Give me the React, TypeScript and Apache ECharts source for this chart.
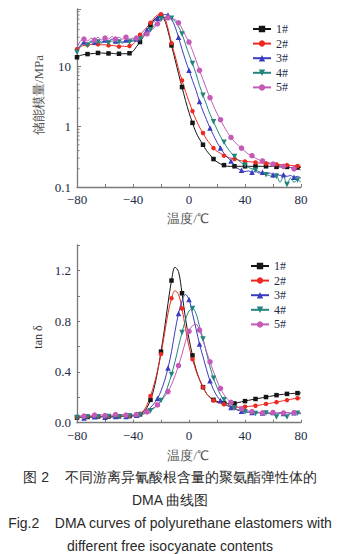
import React, { useEffect, useRef } from "react";
import * as echarts from "echarts";

const temps = [
  -80, -77.5, -75, -72.5, -70, -67.5, -65, -62.5, -60, -57.5, -55, -52.5, -50, -47.5, -45, -42.5,
  -40, -37.5, -35, -32.5, -30, -27.5, -25, -22.5, -20, -17.5, -15, -12.5, -10, -7.5, -5, -2.5,
  0, 2.5, 5, 7.5, 10, 12.5, 15, 17.5, 20, 22.5, 25, 27.5, 30, 32.5, 35, 37.5,
  40, 42.5, 45, 47.5, 50, 52.5, 55, 57.5, 60, 62.5, 65, 67.5, 70, 72.5, 75, 77.5, 80,
];

const seriesNames = ["1#", "2#", "3#", "4#", "5#"];

// storage modulus, MPa
const modulus1 = [
  14, 15, 15.5, 15.8, 16, 16.2, 16.5, 16.5, 16.3, 16.2, 16.3, 16, 16, 16, 16, 16.3,
  17.5, 21, 25, 31, 39, 48, 58, 66, 68, 58, 38, 22, 13, 7.5, 4.5, 2.7,
  1.7, 1.15, 0.8, 0.62, 0.5, 0.4, 0.34, 0.29, 0.26, 0.24, 0.23, 0.22, 0.22, 0.22, 0.22, 0.22,
  0.22, 0.22, 0.22, 0.22, 0.22, 0.22, 0.22, 0.22, 0.22, 0.215, 0.215, 0.215, 0.215, 0.21, 0.21, 0.21, 0.21,
];
const modulus2 = [
  19, 21, 22, 22.5, 23, 22.5, 23, 22.5, 22.5, 22, 22, 21.5, 21, 21.5, 21, 21.5,
  23, 27, 33, 38, 44, 52, 62, 70, 72, 63, 42, 24, 15, 9, 5.8, 3.8,
  2.6, 1.8, 1.3, 0.98, 0.78, 0.62, 0.52, 0.44, 0.39, 0.36, 0.33, 0.31, 0.3, 0.29, 0.28, 0.27,
  0.265, 0.262, 0.26, 0.255, 0.25, 0.248, 0.245, 0.242, 0.24, 0.237, 0.235, 0.232, 0.23, 0.228, 0.225, 0.222, 0.22,
];
const modulus3 = [
  18, 22, 25, 24, 26, 25, 27, 25, 27, 26, 28, 26, 27, 25, 27, 26,
  27, 28, 30, 34, 40, 47, 55, 62, 68, 71, 70, 60, 45, 30, 19, 12.5,
  8.5, 5.8, 4.0, 2.6, 1.8, 1.3, 0.95, 0.72, 0.55, 0.44, 0.36, 0.31, 0.27, 0.23, 0.2, 0.19,
  0.18, 0.185, 0.175, 0.18, 0.17, 0.175, 0.165, 0.17, 0.16, 0.165, 0.155, 0.16, 0.15, 0.155, 0.145, 0.15, 0.14,
];
const modulus4 = [
  17, 21, 24, 22, 25, 23, 25, 24, 26, 24, 26, 24, 25, 24, 26, 25,
  26, 27, 28, 31, 35, 40, 47, 54, 60, 64, 65, 62, 55, 45, 34, 23,
  15.5, 11, 7.5, 4.8, 3.3, 2.3, 1.6, 1.2, 0.9, 0.68, 0.55, 0.44, 0.37, 0.32, 0.28, 0.25,
  0.23, 0.21, 0.2, 0.19, 0.18, 0.17, 0.16, 0.155, 0.145, 0.15, 0.12, 0.15, 0.11, 0.14, 0.12, 0.13, 0.12,
];
const modulus5 = [
  20, 26, 28, 26, 29, 27, 30, 27, 29, 28, 31, 28, 30, 28, 30, 28,
  29, 29, 30, 31, 34, 38, 43, 50, 56, 61, 63, 62, 59, 52, 42, 32,
  25, 18, 12.5, 8.5, 6, 4.2, 3.0, 2.2, 1.65, 1.3, 1.0, 0.8, 0.66, 0.56, 0.49, 0.44,
  0.39, 0.35, 0.33, 0.3, 0.28, 0.27, 0.26, 0.25, 0.24, 0.235, 0.225, 0.22, 0.215, 0.21, 0.2, 0.2, 0.19,
];

// loss factor tan delta
const tan1 = [
  0.04, 0.042, 0.045, 0.045, 0.047, 0.046, 0.048, 0.047, 0.048, 0.048, 0.049, 0.048, 0.05, 0.05, 0.051, 0.052,
  0.054, 0.058, 0.066, 0.085, 0.12, 0.18, 0.27, 0.4, 0.56, 0.74, 0.94, 1.12, 1.225, 1.19, 1.02, 0.82,
  0.66, 0.53, 0.42, 0.34, 0.28, 0.23, 0.2, 0.18, 0.168, 0.16, 0.155, 0.152, 0.15, 0.152, 0.158, 0.165,
  0.17, 0.176, 0.182, 0.187, 0.192, 0.197, 0.202, 0.207, 0.212, 0.217, 0.221, 0.224, 0.227, 0.229, 0.231, 0.233, 0.234,
];
const tan2 = [
  0.045, 0.047, 0.048, 0.05, 0.049, 0.05, 0.051, 0.05, 0.052, 0.051, 0.052, 0.053, 0.052, 0.054, 0.053, 0.055,
  0.056, 0.06, 0.07, 0.095, 0.14, 0.21, 0.3, 0.41, 0.54, 0.7, 0.86, 0.98, 1.04, 1.01, 0.9, 0.74,
  0.6, 0.5, 0.41, 0.34, 0.28, 0.23, 0.2, 0.175, 0.16, 0.152, 0.145, 0.137, 0.128, 0.123, 0.122, 0.124,
  0.126, 0.128, 0.131, 0.134, 0.138, 0.143, 0.148, 0.152, 0.157, 0.162, 0.168, 0.173, 0.178, 0.184, 0.189, 0.193, 0.196,
];
const tan3 = [
  0.035, 0.04, 0.038, 0.045, 0.04, 0.046, 0.042, 0.047, 0.043, 0.048, 0.044, 0.049, 0.046, 0.05, 0.048, 0.052,
  0.055, 0.058, 0.063, 0.075, 0.095, 0.12, 0.15, 0.19, 0.25, 0.33, 0.43, 0.56, 0.72, 0.86, 0.96, 1.01,
  0.97, 0.86, 0.74, 0.62, 0.52, 0.42, 0.33, 0.26, 0.21, 0.175, 0.15, 0.133, 0.12, 0.108, 0.098, 0.09,
  0.085, 0.082, 0.08, 0.078, 0.08, 0.076, 0.079, 0.075, 0.08, 0.074, 0.078, 0.073, 0.079, 0.074, 0.078, 0.075, 0.077,
];
const tan4 = [
  0.04, 0.043, 0.041, 0.045, 0.043, 0.046, 0.044, 0.047, 0.045, 0.048, 0.046, 0.049, 0.047, 0.05, 0.049, 0.052,
  0.055, 0.057, 0.06, 0.068, 0.08, 0.095, 0.115, 0.14, 0.175, 0.22, 0.29, 0.38, 0.48, 0.6, 0.71, 0.81,
  0.88, 0.9, 0.86, 0.76, 0.66, 0.55, 0.44, 0.35, 0.28, 0.22, 0.18, 0.15, 0.13, 0.115, 0.102, 0.093,
  0.087, 0.083, 0.08, 0.072, 0.078, 0.068, 0.076, 0.07, 0.074, 0.045, 0.075, 0.068, 0.045, 0.072, 0.07, 0.074, 0.068,
];
const tan5 = [
  0.05, 0.055, 0.052, 0.058, 0.054, 0.06, 0.055, 0.062, 0.056, 0.063, 0.058, 0.064, 0.059, 0.065, 0.06, 0.064,
  0.062, 0.065, 0.068, 0.075, 0.085, 0.1, 0.12, 0.14, 0.17, 0.205, 0.245, 0.3, 0.37, 0.45, 0.54, 0.64,
  0.72, 0.765, 0.775, 0.73, 0.65, 0.56, 0.48, 0.4, 0.33, 0.27, 0.22, 0.185, 0.16, 0.14, 0.122, 0.108,
  0.098, 0.092, 0.087, 0.083, 0.08, 0.078, 0.082, 0.077, 0.081, 0.076, 0.08, 0.077, 0.081, 0.076, 0.079, 0.075, 0.078,
];

const xTicks = [-80, -40, 0, 40, 80];
const logMinorTicks = [0.2, 0.3, 0.4, 0.5, 0.6, 0.7, 0.8, 0.9, 2, 3, 4, 5, 6, 7, 8, 9, 20, 30, 40, 50, 60, 70, 80];

const colors = ["#151515", "#ec2a22", "#3c3cbf", "#22857d", "#c45ab8"];
const symbols = ["rect", "circle", "triangle", "triangle", "circle"];
const symbolSizes = [4.5, 4.5, 5.5, 5.5, 5.5];
const symbolRotates = [0, 0, 0, 180, 0];
const markerOffsets = [0, 0, 2, 0, 2];

const serif = "Liberation Serif";
const sans = "Liberation Sans";
const labelColor = "#1c2a48";
const axisColor = "#7a7a7a";

function buildSeries(values: number[][], gridIdx: number) {
  return values.map((vals, k) => ({
    name: seriesNames[k],
    type: "line",
    xAxisIndex: gridIdx,
    yAxisIndex: gridIdx,
    smooth: 0.35,
    showAllSymbol: true,
    symbol: symbols[k],
    symbolSize: symbolSizes[k],
    symbolRotate: symbolRotates[k],
    lineStyle: { color: colors[k], width: 1 },
    itemStyle: { color: colors[k] },
    data: vals.map((v, i) =>
      i >= markerOffsets[k] && (i - markerOffsets[k]) % 3 === 0
        ? { value: [temps[i], v] }
        : { value: [temps[i], v], symbol: "none" }
    ),
  }));
}

function xAxis(gridIndex: number) {
  return {
    type: "value",
    gridIndex,
    min: -80,
    max: 80,
    interval: 20,
    axisLine: { show: true, onZero: false, lineStyle: { color: axisColor, width: 1.3 } },
    axisTick: { show: true, inside: true, length: 3, lineStyle: { color: axisColor } },
    splitLine: { show: false },
    axisLabel: {
      margin: 6,
      fontFamily: serif,
      fontSize: 13,
      color: labelColor,
      formatter: (v: number) => (xTicks.indexOf(v) >= 0 ? String(v).replace("-", "\u2212") : ""),
    },
  };
}

function textEl(text: string, x: number, y: number, size: number, family: string, fill: string, rotate = false) {
  return {
    type: "text",
    x,
    y,
    rotation: rotate ? Math.PI / 2 : 0,
    style: { text, fontFamily: family, fontSize: size, fill, textAlign: "center", textVerticalAlign: "middle" },
  };
}

export default function App() {
  const ref = useRef<HTMLDivElement>(null);
  useEffect(() => {
    if (!ref.current) return;
    const chart = echarts.init(ref.current, null, { renderer: "svg" });
    const legendBase = {
      data: seriesNames,
      orient: "vertical",
      itemWidth: 18,
      itemHeight: 8,
      itemGap: 2.6,
      textStyle: { fontFamily: serif, fontSize: 12, color: labelColor },
      selectedMode: false,
    };
    chart.setOption({
      animation: false,
      backgroundColor: "#ffffff",
      grid: [
        { left: 77, top: 9, width: 224, height: 178 },
        { left: 77, top: 245, width: 224, height: 177.7 },
      ],
      xAxis: [xAxis(0), xAxis(1)],
      yAxis: [
        {
          type: "log",
          gridIndex: 0,
          logBase: 10,
          min: 0.1,
          max: 88,
          axisLine: { show: true, onZero: false, lineStyle: { color: axisColor, width: 1.3 } },
          axisTick: { show: true, inside: true, length: 4, lineStyle: { color: axisColor } },
          splitLine: { show: false },
          axisLabel: {
            margin: 6,
            fontFamily: serif,
            fontSize: 13,
            color: labelColor,
            formatter: (v: number) => {
              const l = Math.log10(v);
              if (Math.abs(l - Math.round(l)) > 1e-6) return "";
              return l < 0 ? "0.1" : String(Math.round(v));
            },
          },
        },
        {
          type: "value",
          gridIndex: 1,
          min: 0,
          max: 1.4,
          interval: 0.2,
          axisLine: { show: true, onZero: false, lineStyle: { color: axisColor, width: 1.3 } },
          axisTick: { show: true, inside: true, length: 3, lineStyle: { color: axisColor } },
          splitLine: { show: false },
          axisLabel: {
            margin: 6,
            fontFamily: serif,
            fontSize: 13,
            color: labelColor,
            formatter: (v: number) => {
              const r = v / 0.4;
              return Math.abs(r - Math.round(r)) < 1e-6 && v < 1.39 ? v.toFixed(1) : "";
            },
          },
        },
      ],
      legend: [
        { ...legendBase, left: 247, top: 18 },
        { ...legendBase, left: 245, top: 255 },
      ],
      series: [
        ...buildSeries([modulus1, modulus2, modulus3, modulus4, modulus5], 0),
        ...buildSeries([tan1, tan2, tan3, tan4, tan5], 1),
        {
          name: "minor",
          type: "custom",
          xAxisIndex: 0,
          yAxisIndex: 0,
          silent: true,
          clip: false,
          data: logMinorTicks.map((v) => [-80, v]),
          renderItem: (_p: any, api: any) => {
            const pt = api.coord([api.value(0), api.value(1)]);
            return {
              type: "line",
              shape: { x1: pt[0], y1: pt[1], x2: pt[0] + 2.5, y2: pt[1] },
              style: { stroke: axisColor, lineWidth: 1 },
            };
          },
        },
      ],
      graphic: [
        textEl("储能模量/MPa", 38, 95, 13, serif, "#555", true),
        textEl("温度/℃", 188, 218, 13, serif, "#555"),
        textEl("tan δ", 38, 337, 12, serif, "#333", true),
        textEl("温度/℃", 188, 455, 13, serif, "#555"),
        textEl("图 2    不同游离异氰酸根含量的聚氨酯弹性体的", 170, 477, 14, sans, "#2a2a2a"),
        textEl("DMA 曲线图", 170, 500, 14, sans, "#2a2a2a"),
        textEl("Fig.2    DMA curves of polyurethane elastomers with", 170, 523, 14, sans, "#2a2a2a"),
        textEl("different free isocyanate contents", 170, 546, 14, sans, "#2a2a2a"),
      ],
    });
    return () => chart.dispose();
  }, []);
  return <div ref={ref} style={{ position: "absolute", left: 0, top: 0, width: 353, height: 554 }} />;
}
